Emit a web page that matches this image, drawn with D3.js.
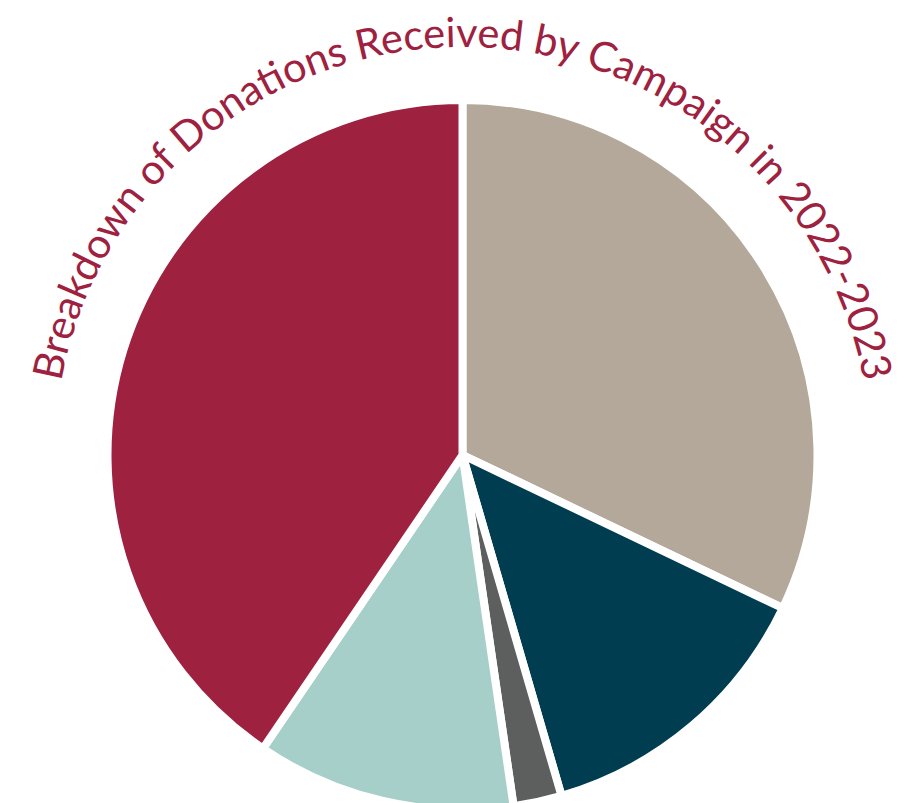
<!DOCTYPE html>
<html>
<head>
<meta charset="utf-8">
<script src="https://cdn.jsdelivr.net/npm/d3@7"></script>
<style>
  html, body { margin: 0; padding: 0; background: #fff; }
  svg { display: block; }
</style>
</head>
<body>
<script>
const titleText = "Breakdown of Donations Received by Campaign in 2022-2023";
const categories = ["Campaign 1", "Campaign 2", "Campaign 3", "Campaign 4", "Campaign 5"];
const values = [32.1, 13.4, 2.2, 11.8, 40.5];
const colors = ["#B3A89A", "#003D50", "#5C5F5E", "#A7CFCA", "#9E2140"];

const W = 900, H = 803;
const cx = 462.5, cy = 455, R = 355, titleR = 408;

const svg = d3.select("body").append("svg").attr("width", W).attr("height", H);
const g = svg.append("g").attr("transform", `translate(${cx},${cy})`);

const pie = d3.pie().sort(null).value(d => d.v);
const arc = d3.arc().innerRadius(0).outerRadius(R);
const data = categories.map((c, i) => ({ c, v: values[i], col: colors[i] }));

g.selectAll("path.slice").data(pie(data)).join("path")
  .attr("class", "slice")
  .attr("d", arc)
  .attr("fill", d => d.data.col)
  .attr("stroke", "#fff")
  .attr("stroke-width", 8)
  .attr("stroke-linejoin", "round");

// title along an arc
const a0 = -Math.PI * 0.95, a1 = Math.PI * 0.95;
const p = d3.path();
p.arc(0, 0, titleR, a0 - Math.PI / 2, a1 - Math.PI / 2, false);
g.append("path").attr("id", "titlePath").attr("d", p.toString()).attr("fill", "none");

g.append("text")
  .attr("font-family", "Lato, 'Open Sans', sans-serif")
  .attr("font-size", 41.5)
  .attr("fill", "#9E2140")
  .append("textPath")
  .attr("href", "#titlePath")
  .attr("startOffset", "50%")
  .attr("text-anchor", "middle")
  .text(titleText);
</script>
</body>
</html>
